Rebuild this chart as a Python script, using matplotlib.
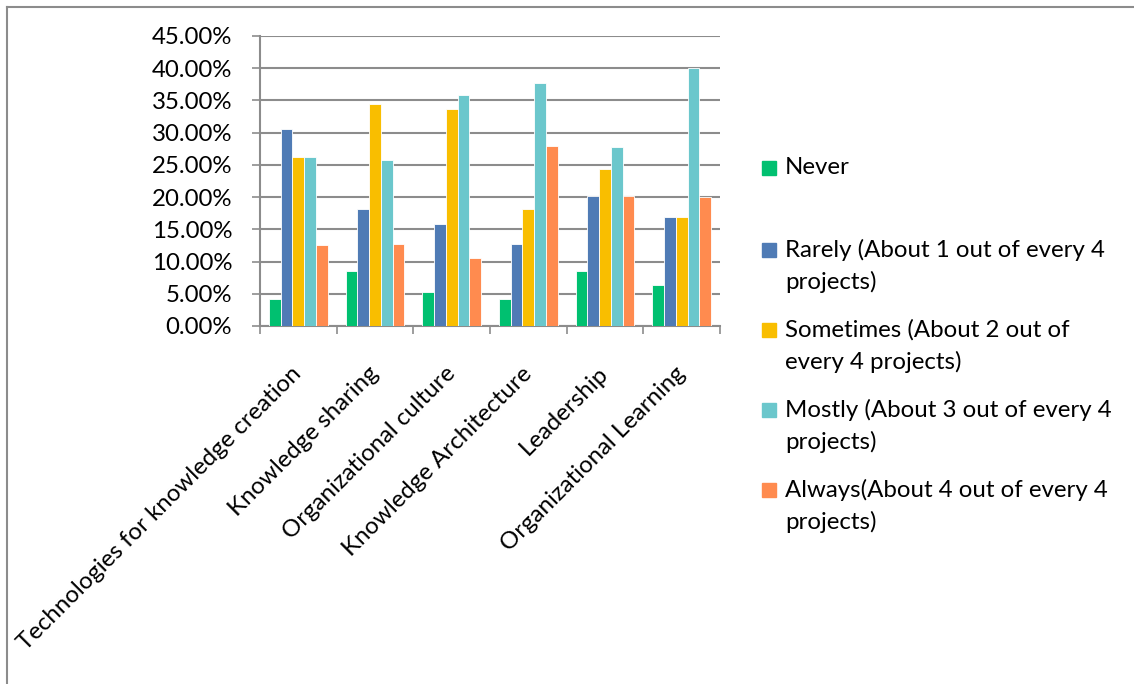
import numpy as np
import matplotlib
matplotlib.use("Agg")
import matplotlib.pyplot as plt
from matplotlib.patches import Rectangle
from matplotlib.lines import Line2D

categories = ["Technologies for knowledge creation", "Knowledge sharing",
              "Organizational culture", "Knowledge Architecture",
              "Leadership", "Organizational Learning"]
never = [4.2, 8.5, 5.2, 4.2, 8.5, 6.3]
rarely = [30.5, 18.2, 15.8, 12.8, 20.2, 16.9]
sometimes = [26.3, 34.4, 33.6, 18.2, 24.4, 16.9]
mostly = [26.3, 25.8, 35.8, 37.7, 27.7, 40.0]
always = [12.6, 12.8, 10.5, 27.9, 20.2, 20.0]

series_names = ["Never",
                "Rarely (About 1 out of every 4\nprojects)",
                "Sometimes (About 2 out of\nevery 4 projects)",
                "Mostly (About 3 out of every 4\nprojects)",
                "Always(About 4 out of every 4\nprojects)"]
colors = ["#00C070", "#4F7BB5", "#F9BE00", "#6BC7CC", "#FF8B4F"]

plt.rcParams['font.family'] = ['Lato', 'DejaVu Sans']
FS = 17.3

fig = plt.figure(figsize=(11.34, 6.84), dpi=100)
W, H = 1134, 684
ax = fig.add_axes([260 / W, 1 - 326 / H, 460 / W, 290 / H])

x = np.arange(len(categories))
w = 0.153
for i, (vals, c) in enumerate(zip([never, rarely, sometimes, mostly, always], colors)):
    ax.bar(x + (i - 2) * w, np.array(vals) / 100, w, color=c, edgecolor='white',
           linewidth=0.6, zorder=3)

ax.set_xlim(-0.5, len(categories) - 0.5)
ax.set_ylim(0, 0.45)
ax.set_yticks(np.arange(0, 0.451, 0.05))
ax.set_yticklabels([f"{v*100:.2f}%" for v in np.arange(0, 0.451, 0.05)], fontsize=FS)
ax.yaxis.grid(True, color='#8C8C8C', linewidth=1.5, zorder=0)
ax.tick_params(axis='y', length=6, color='#8C8C8C', width=1.2, pad=14)

ax.set_xticks(x)
ax.set_xticklabels(categories, rotation=45, ha='right', va='center',
                   rotation_mode='anchor', fontsize=FS)
ax.tick_params(axis='x', which='major', length=0, pad=32)
ax.set_xticks(np.arange(-0.5, len(categories)), minor=True)
ax.tick_params(axis='x', which='minor', length=6, color='#8C8C8C', width=1.2)

for s in ['top', 'right']:
    ax.spines[s].set_visible(False)
for s in ['left', 'bottom']:
    ax.spines[s].set_color('#8C8C8C')
    ax.spines[s].set_linewidth(1.5)

# legend drawn at the right
entry_y = [168, 250, 330, 410, 490]
for name, c, yy in zip(series_names, colors, entry_y):
    fig.add_artist(Rectangle((762 / W, 1 - (yy + 7) / H), 14 / W, 14 / H,
                             transform=fig.transFigure, color=c))
    for k, line in enumerate(name.split("\n")):
        fig.text(785 / W, 1 - (yy + 32 * k) / H, line, fontsize=FS,
                 va='center', ha='left')

# outer frame
fig.add_artist(Line2D([7 / W, 7 / W], [0, 1 - 7 / H], transform=fig.transFigure,
                      color='#8C8C8C', linewidth=1.5))
fig.add_artist(Line2D([7 / W, 1], [1 - 7 / H, 1 - 7 / H], transform=fig.transFigure,
                      color='#8C8C8C', linewidth=1.5))

fig.savefig("out.png", dpi=100)
